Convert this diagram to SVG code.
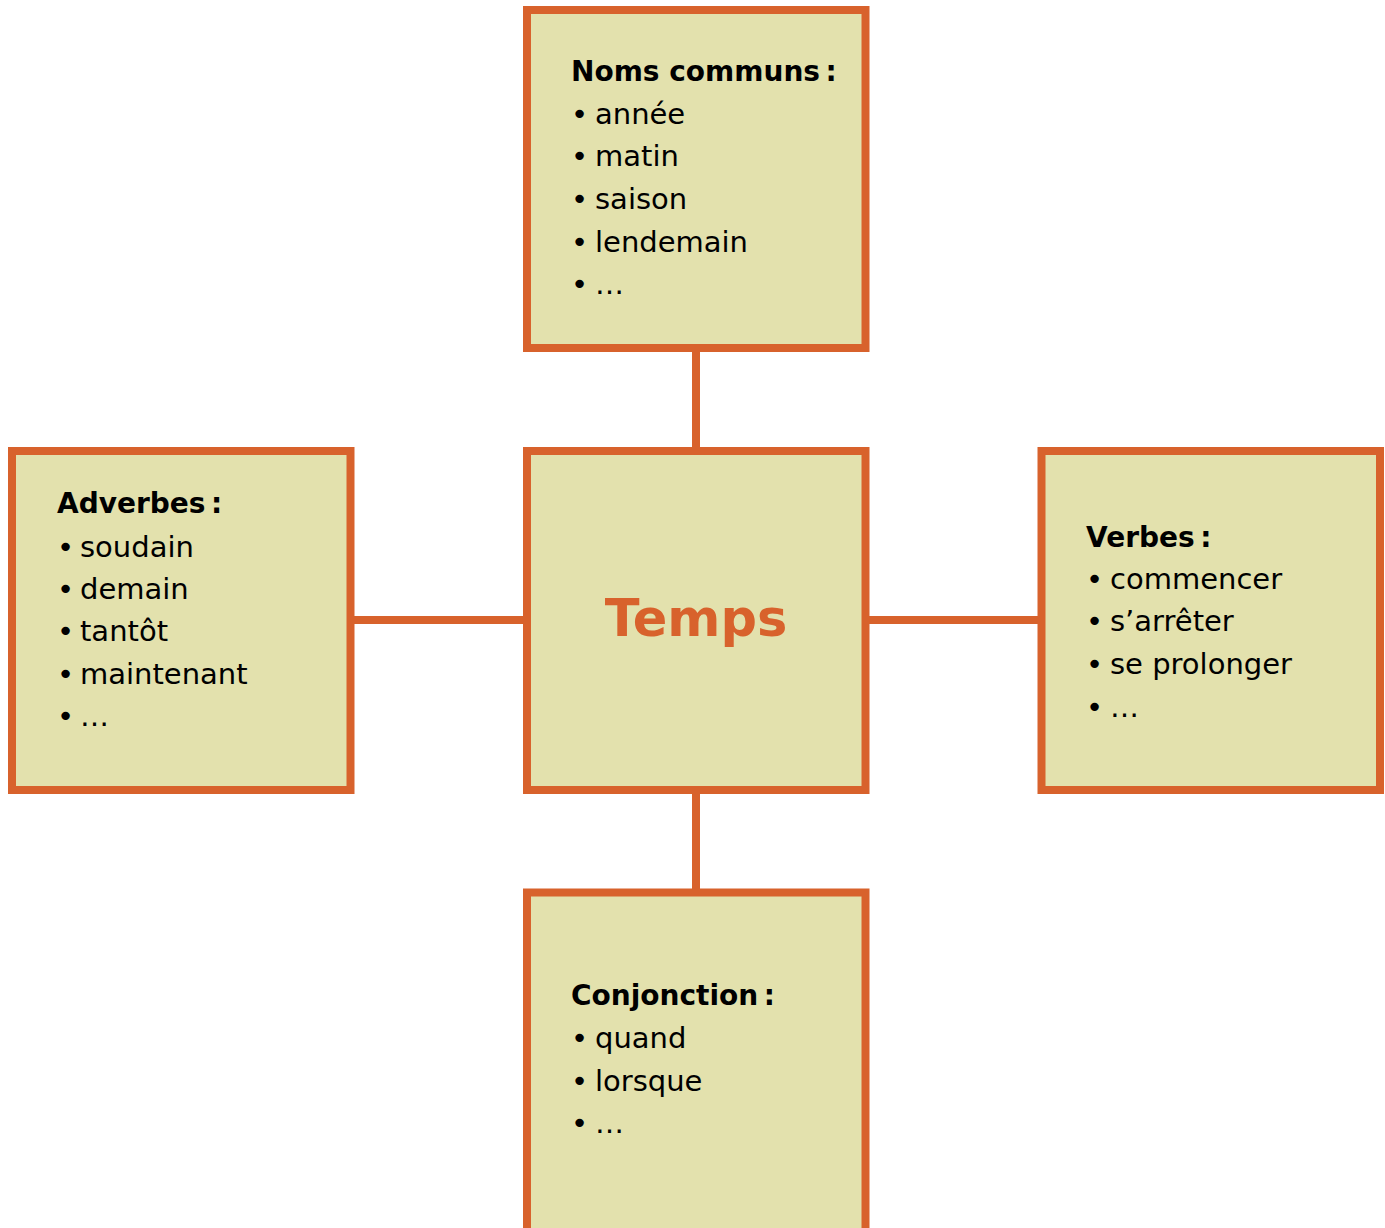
<svg xmlns="http://www.w3.org/2000/svg" width="1385" height="1228" viewBox="0 0 1385 1228">
<style>
.box{fill:#e3e1ad;stroke:#d8622c;stroke-width:8}
.conn{stroke:#d8622c;stroke-width:8;fill:none}
.h{font-family:"DejaVu Sans",sans-serif;font-weight:bold;font-size:28px;fill:#000}
.i{font-family:"DejaVu Sans",sans-serif;font-size:29px;fill:#000}
.title{font-family:"DejaVu Sans",sans-serif;font-weight:bold;font-size:51px;fill:#d8622c}
</style>
<rect width="1385" height="1228" fill="#fff"/>
<g id="connectors">
<line class="conn" x1="696" y1="348" x2="696" y2="451"/>
<line class="conn" x1="696" y1="790" x2="696" y2="893"/>
<line class="conn" x1="350" y1="620" x2="527" y2="620"/>
<line class="conn" x1="865" y1="620" x2="1042" y2="620"/>
</g>
<g id="noms">
<rect class="box" x="527" y="10" width="338.5" height="338"/>
<text class="h" x="571" y="81">Noms communs&#8239;:</text>
<text class="i" y="124"><tspan x="571">•</tspan><tspan x="595">année</tspan></text>
<text class="i" y="166"><tspan x="571">•</tspan><tspan x="595">matin</tspan></text>
<text class="i" y="209"><tspan x="571">•</tspan><tspan x="595">saison</tspan></text>
<text class="i" y="252"><tspan x="571">•</tspan><tspan x="595">lendemain</tspan></text>
<text class="i" y="294"><tspan x="571">•</tspan><tspan x="595">…</tspan></text>
</g>
<g id="adverbes">
<rect class="box" x="12" y="451" width="338.5" height="339"/>
<text class="h" x="57" y="513">Adverbes&#8239;:</text>
<text class="i" y="557"><tspan x="57">•</tspan><tspan x="80">soudain</tspan></text>
<text class="i" y="599"><tspan x="57">•</tspan><tspan x="80">demain</tspan></text>
<text class="i" y="641"><tspan x="57">•</tspan><tspan x="80">tantôt</tspan></text>
<text class="i" y="684"><tspan x="57">•</tspan><tspan x="80">maintenant</tspan></text>
<text class="i" y="726"><tspan x="57">•</tspan><tspan x="80">…</tspan></text>
</g>
<g id="temps">
<rect class="box" x="527" y="451" width="338.5" height="339"/>
<text class="title" x="696" y="636" text-anchor="middle">Temps</text>
</g>
<g id="verbes">
<rect class="box" x="1041.5" y="451" width="338.5" height="339"/>
<text class="h" x="1086" y="547">Verbes&#8239;:</text>
<text class="i" y="589"><tspan x="1086">•</tspan><tspan x="1110">commencer</tspan></text>
<text class="i" y="631"><tspan x="1086">•</tspan><tspan x="1110">s’arrêter</tspan></text>
<text class="i" y="674"><tspan x="1086">•</tspan><tspan x="1110">se prolonger</tspan></text>
<text class="i" y="717"><tspan x="1086">•</tspan><tspan x="1110">…</tspan></text>
</g>
<g id="conjonction">
<rect class="box" x="527" y="892.5" width="338.5" height="345"/>
<text class="h" x="571" y="1005">Conjonction&#8239;:</text>
<text class="i" y="1048"><tspan x="571">•</tspan><tspan x="595">quand</tspan></text>
<text class="i" y="1091"><tspan x="571">•</tspan><tspan x="595">lorsque</tspan></text>
<text class="i" y="1133"><tspan x="571">•</tspan><tspan x="595">…</tspan></text>
</g>
</svg>
